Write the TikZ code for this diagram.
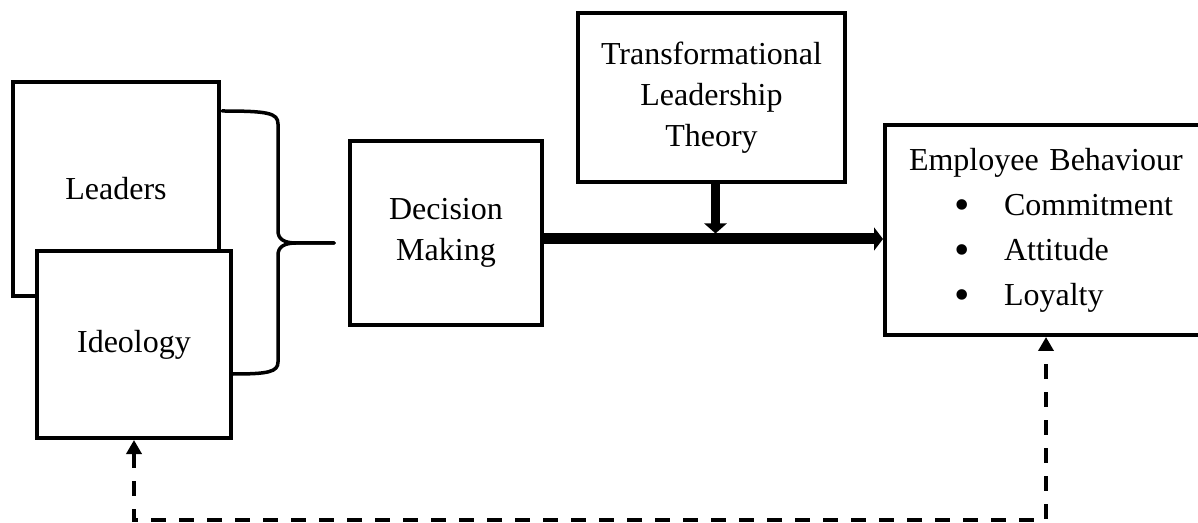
\documentclass[tikz,border=0pt]{standalone}
\usepackage{fontspec}
\setmainfont{Liberation Serif}
\usetikzlibrary{arrows.meta}
\newcommand\colorBox{black}
\newcommand\boxLine{2pt}
\newcommand\mainLine{5.5pt}
\newcommand\feedbackLine{2pt}
\newcommand\ebItem[1]{\hspace*{22.65pt}\raisebox{-2.2pt}{\fontsize{22}{0}\selectfont\textbullet}\hspace{17.15pt}#1}
\tikzset{
	box/.style={draw=\colorBox, line width=\boxLine, fill=white, inner sep=0pt, align=center, font=\fontsize{16}{20.5}\selectfont},
	mainarrow/.style={draw=\colorBox, line width=\mainLine, -{Triangle[length=4.5pt,width=11.5pt]}},
	downarrow/.style={draw=\colorBox, line width=4.5pt, -{Triangle[length=5pt,width=11pt]}},
	feedback/.style={draw=\colorBox, line width=\feedbackLine, dash pattern=on 7.5pt off 6.5pt, {Triangle[length=7pt,width=7.5pt]}-{Triangle[length=7pt,width=7.5pt]}},
	bracket/.style={draw=\colorBox, line width=1.75pt, line cap=round, line join=round}
}

\begin{document}
\begin{tikzpicture}[x=0.5pt,y=-0.5pt]
	\useasboundingbox (0,0) rectangle (1198,523);

	\node[box, minimum width=103pt, minimum height=107pt] (leaders) at (116,189) {Leaders};
	\node[box, minimum width=97pt, minimum height=93.5pt] (ideology) at (134,344.5) {Ideology};
	\node[box, minimum width=96pt, minimum height=92pt] (dm) at (446,233) {Decision\\Making};
	\node[box, minimum width=133.5pt, minimum height=84.5pt] (tlt) at (711.5,97.5) {Transformational\\Leadership\\Theory};
	\node[box, anchor=north west, minimum width=161pt, minimum height=105pt, inner xsep=12pt, text width=137pt, align=left] (eb) at (883,123) {Employee Behaviour\\[2pt]
		\ebItem{Commitment}\\[2pt]
		\ebItem{Attitude}\\[2pt]
		\ebItem{Loyalty}};

	\draw[bracket] (222,111) .. controls (268,111) and (278,113) .. (278,124) -- (278,231) .. controls (278,239) and (284,243) .. (296,243) -- (334,243);
	\draw[bracket] (334,243) -- (296,243) .. controls (284,243) and (278,247) .. (278,255) -- (278,362) .. controls (278,372) and (268,374) .. (233,374);

	\coordinate (mainstart) at ([yshift=-3pt]dm.east);
	\coordinate (join) at ([xshift=2pt]tlt.south |- mainstart);
	\coordinate (loopbottom) at (0,520);

	\draw[mainarrow] (mainstart) -- (mainstart -| eb.west);
	\draw[downarrow] ([xshift=2pt]tlt.south) -- ([yshift=2.75pt]join);
	\draw[feedback] (ideology.south) -- (ideology.south |- loopbottom) -| (eb.south);
\end{tikzpicture}
\end{document}
